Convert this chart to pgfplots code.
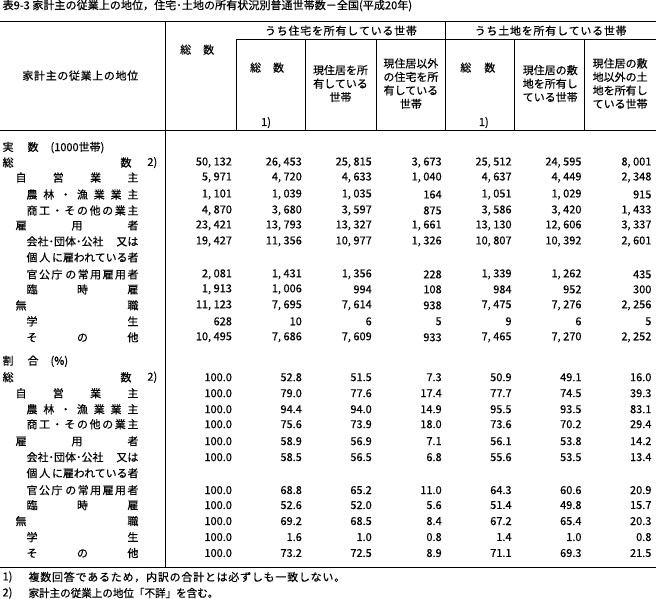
\documentclass[border=0pt]{standalone}
\usepackage{fontspec}
\setmainfont{Noto Sans CJK JP}[UprightFeatures={FakeBold=0.4}]
\usepackage{pgfplots}
\usepackage{pgfplotstable}
\usepackage{graphicx}
\pgfplotsset{compat=1.18}

% spread the characters of #1 evenly over a box
\let\SPend\relax
\def\SPendtext{\SPend}
\def\SPfirst#1{#1\SPnext}
\def\SPnext#1{\def\SPtmp{#1}\ifx\SPtmp\SPendtext\else\hfill#1\expandafter\SPnext\fi}
\newcommand\SP[1]{\SPfirst#1\SPend}
\newcommand\lab[4]{\node[anchor=west,inner sep=0pt] at (#1,#2) {\makebox[#3pt][s]{\SP{#4}}};}

% actual numbers (1000 households)
\pgfplotstableread{
y a b c d e f g
165 50132 26453 25815 3673 25512 24595 8001
180 5971 4720 4633 1040 4637 4449 2348
197 1101 1039 1035 164 1051 1029 915
213 4870 3680 3597 875 3586 3420 1433
228 23421 13793 13327 1661 13130 12606 3337
244 19427 11356 10977 1326 10807 10392 2601
277 2081 1431 1356 228 1339 1262 435
292 1913 1006 994 108 984 952 300
308 11123 7695 7614 938 7475 7276 2256
324 628 10 6 5 9 6 5
340 10495 7686 7609 933 7465 7270 2252
}\jisu

% shares (%)
\pgfplotstableread{
y a b c d e f g
380 100.0 52.8 51.5 7.3 50.9 49.1 16.0
396 100.0 79.0 77.6 17.4 77.7 74.5 39.3
412 100.0 94.4 94.0 14.9 95.5 93.5 83.1
427 100.0 75.6 73.9 18.0 73.6 70.2 29.4
444 100.0 58.9 56.9 7.1 56.1 53.8 14.2
460 100.0 58.5 56.5 6.8 55.6 53.5 13.4
493 100.0 68.8 65.2 11.0 64.3 60.6 20.9
508 100.0 52.6 52.0 5.6 51.4 49.8 15.7
524 100.0 69.2 68.5 8.4 67.2 65.4 20.3
540 100.0 1.6 1.0 0.8 1.4 1.0 0.8
556 100.0 73.2 72.5 8.9 71.1 69.3 21.5
}\wariai

\pgfplotsset{
  cell/.style={only marks, mark=none, point meta=explicit symbolic,
    nodes near coords align={anchor=east},
    every node near coord/.append style={inner sep=0pt, font=\fontsize{11pt}{13pt}\selectfont}},
  int/.style={cell, nodes near coords={\pgfmathprintnumber[fixed,precision=0,1000 sep={,\kern2.5pt},assume math mode=true]{\pgfplotspointmeta}}},
  pct/.style={cell, nodes near coords={\pgfmathprintnumber[fixed,fixed zerofill,precision=1,assume math mode=true]{\pgfplotspointmeta}}},
}
\newcommand\numcol[4]{\addplot[#1] table[x expr=#3, y=y, meta=#4] {#2};}

\begin{document}
\fontsize{11pt}{13.5pt}\selectfont
\begin{tikzpicture}
\begin{axis}[
  scale only axis, width=656pt, height=605pt,
  xmin=0, xmax=656, ymin=0, ymax=605, y dir=reverse,
  axis lines=none, clip=false,
]
\numcol{int}{\jisu}{232}{a}
\numcol{int}{\jisu}{302}{b}
\numcol{int}{\jisu}{372}{c}
\numcol{int}{\jisu}{442}{d}
\numcol{int}{\jisu}{512}{e}
\numcol{int}{\jisu}{582}{f}
\numcol{int}{\jisu}{652}{g}
\numcol{pct}{\wariai}{232}{a}
\numcol{pct}{\wariai}{302}{b}
\numcol{pct}{\wariai}{372}{c}
\numcol{pct}{\wariai}{442}{d}
\numcol{pct}{\wariai}{512}{e}
\numcol{pct}{\wariai}{582}{f}
\numcol{pct}{\wariai}{652}{g}

% rules
\draw[line width=0.8pt] (0,24) -- (656,24);
\draw[line width=0.8pt] (236,42) -- (656,42);
\draw[line width=0.8pt] (0,133) -- (656,133);
\draw[line width=0.8pt] (0,570) -- (656,570);
\draw[line width=0.8pt] (165,24) -- (165,570);
\draw[line width=0.8pt] (446,24) -- (446,133);
\draw[line width=0.8pt] (236,42) -- (236,133);
\draw[line width=0.8pt] (305,42) -- (305,133);
\draw[line width=0.8pt] (376,42) -- (376,133);
\draw[line width=0.8pt] (515,42) -- (515,133);
\draw[line width=0.8pt] (585,42) -- (585,133);

% title
\node[anchor=west,inner sep=0pt] at (2,8) {\resizebox{410pt}{\height}{表9-3\ 家計主の従業上の地位，住宅･土地の所有状況別普通世帯数－全国(平成20年)}};

% header
\node at (80,78) {\makebox[116pt][s]{\SP{家計主の従業上の地位}}};
\node at (197,52) {総\hspace{12pt}数};
\node at (341,33) {\makebox[152pt][s]{\SP{うち住宅を所有している世帯}}};
\node at (551,33) {\makebox[152pt][s]{\SP{うち土地を所有している世帯}}};
\node at (267,70) {総\hspace{12pt}数};
\node at (266,125) {1)};
\node[align=center] at (340.5,86) {現住居を所\\有している\\世帯};
\node[align=center] at (411,86) {現住居以外\\の住宅を所\\有している\\世帯};
\node at (478,70) {総\hspace{13pt}数};
\node at (484,125) {1)};
\node[align=center] at (550.5,86) {現住居の敷\\地を所有し\\ている世帯};
\node[align=center] at (620.5,86) {現住居の敷\\地以外の土\\地を所有し\\ている世帯};

% row labels, actual numbers
\node[anchor=west,inner sep=0pt] at (2,150) {実\hspace{14pt}数\hspace{12pt}(1000世帯)};
\lab{2}{165}{129}{総数}
\node[anchor=west,inner sep=0pt] at (147,165) {2)};
\lab{15}{180}{123}{自営業主}
\lab{26}{197}{112}{農林・漁業業主}
\lab{26}{213}{112}{商工・その他の業主}
\lab{15}{228}{123}{雇用者}
\lab{26}{244}{112}{{会社･団体･公社}{又は}}
\node[anchor=west,inner sep=0pt] at (26,260) {\resizebox{112pt}{\height}{個\,人\,に雇われている者}};
\lab{26}{277}{112}{官公庁{}の常用雇用者}
\lab{26}{292}{112}{臨時雇}
\lab{15}{308}{123}{無職}
\lab{26}{324}{112}{学生}
\lab{26}{340}{112}{その他}

% row labels, shares
\node[anchor=west,inner sep=0pt] at (2,364) {割\hspace{14pt}合\hspace{12pt}(\%)};
\lab{2}{380}{129}{総数}
\node[anchor=west,inner sep=0pt] at (147,380) {2)};
\lab{15}{396}{123}{自営業主}
\lab{26}{412}{112}{農林・漁業業主}
\lab{26}{427}{112}{商工・その他の業主}
\lab{15}{444}{123}{雇用者}
\lab{26}{460}{112}{{会社･団体･公社}{又は}}
\node[anchor=west,inner sep=0pt] at (26,476) {\resizebox{112pt}{\height}{個\,人\,に雇われている者}};
\lab{26}{493}{112}{官公庁{}の常用雇用者}
\lab{26}{508}{112}{臨時雇}
\lab{15}{524}{123}{無職}
\lab{26}{540}{112}{学生}
\lab{26}{556}{112}{その他}

% footnotes
\node[anchor=west,inner sep=0pt] at (2,580) {1)};
\node[anchor=west,inner sep=0pt] at (28,580) {\makebox[317pt][s]{\SP{複数回答であるため，内訳の合計とは必ずしも一致しない。}}};
\node[anchor=west,inner sep=0pt] at (2,596) {2)};
\node[anchor=west,inner sep=0pt] at (28,596) {\resizebox{190pt}{\height}{家計主の従業上の地位「不詳」を含む。}};
\end{axis}
\end{tikzpicture}
\end{document}
